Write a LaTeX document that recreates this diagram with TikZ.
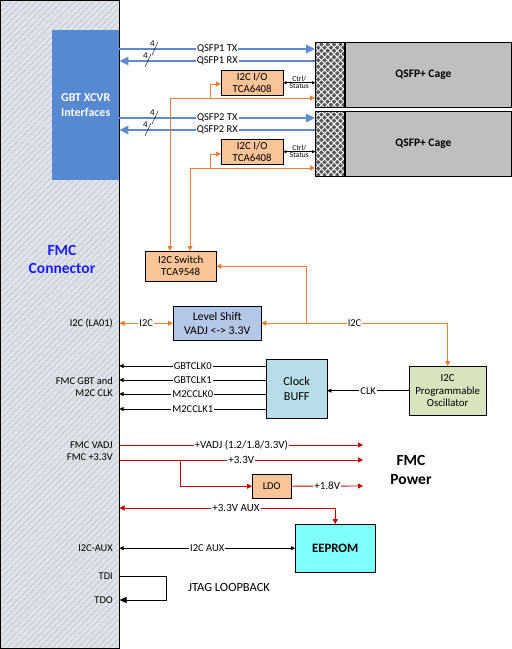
\documentclass[tikz,border=0pt]{standalone}
\usepackage{fontspec}
\setmainfont{Carlito}
\usetikzlibrary{arrows.meta,positioning,patterns.meta}
\definecolor{xcvr}{RGB}{86,137,210}
\definecolor{lane}{RGB}{92,138,204}
\definecolor{bus}{RGB}{237,125,49}
\definecolor{pwr}{RGB}{192,0,0}
\definecolor{peach}{RGB}{248,196,152}
\definecolor{shiftc}{RGB}{180,199,231}
\definecolor{buffc}{RGB}{183,222,232}
\definecolor{oscc}{RGB}{215,228,189}
\definecolor{eec}{RGB}{128,255,255}
\definecolor{fmcc}{RGB}{220,227,235}
\definecolor{fmcblue}{RGB}{30,30,250}
\begin{document}
\begin{tikzpicture}[x=1pt,y=-1pt,
  box/.style={draw, align=center, inner sep=2pt, anchor=north west,
              font=\fontsize{10.8}{12}\selectfont},
  lbl/.style={fill=white, text=black, inner sep=1pt, font=\fontsize{10.5}{11}\selectfont},
  side/.style={anchor=east, align=right, inner sep=1pt, font=\fontsize{10.4}{12}\selectfont},
  lanearr/.style={lane, line width=2.4pt, -{Triangle[length=9pt,width=8pt]}},
  busarr/.style={bus, line width=0.9pt, -{Triangle[length=5pt,width=5pt]}},
  pwrarr/.style={pwr, line width=0.9pt, -{Triangle[length=5pt,width=5pt]}},
  sigarr/.style={black, line width=0.7pt, -{Triangle[length=4pt,width=4pt]}}]
\useasboundingbox (0,0) rectangle (512,649);

% FMC connector and transceivers
\node[draw, line width=0.8pt, preaction={fill=fmcc}, pattern={Lines[angle=45,distance=4.5pt,line width=0.5pt]},
      pattern color=black!25, minimum width=119, minimum height=648, anchor=north west] (fmc) at (0,0) {};
\node[font=\fontsize{15.5}{18}\selectfont\bfseries, text=fmcblue, align=center] (fmcname) at (62,259) {FMC\\Connector};
\node[box, fill=xcvr, draw=none, text=white, font=\fontsize{12}{15}\selectfont\bfseries,
      minimum width=67, minimum height=150] (gbt) at (52,30) {GBT XCVR\\Interfaces};

% QSFP cages
\foreach \n/\y in {1/42,2/111} {
  \node[box, fill=black!25, minimum width=166, minimum height=65, line width=0.8pt,
        font=\fontsize{11.5}{13}\selectfont\bfseries] (cage\n) at (345,\y) {QSFP+ Cage\hspace*{10pt}};
  \node[draw, line width=0.8pt, preaction={fill=black!65}, pattern={Hatch[angle=45,distance=4.5pt,line width=0.9pt]},
        pattern color=white, minimum width=29, minimum height=65, anchor=north east] (plug\n) at (cage\n.north west) {};
}

% lanes
\foreach \n/\t/\r in {1/49/61,2/118/130} {
  \draw[lanearr] (gbt.east |- 0,\t) -- node[lbl]{QSFP\n\ TX} (plug\n.west |- 0,\t);
  \draw[lanearr] (plug\n.west |- 0,\r) -- node[lbl]{QSFP\n\ RX} (gbt.east |- 0,\r);
  \draw[thin] (152,\t+6) -- (158,\t-7) node[pos=0.85, left=-1pt, font=\fontsize{9}{9}\selectfont]{4};
  \draw[thin] (145,\r+6) -- (151,\r-7) node[pos=0.85, left=-1pt, font=\fontsize{9}{9}\selectfont]{4};
}

% I2C I/O expanders
\node[box, fill=peach, minimum width=62, minimum height=25] (io1) at (221,70) {I2C I/O\\TCA6408};
\node[box, fill=peach, minimum width=62, minimum height=25] (io2) at (221,139) {I2C I/O\\TCA6408};
\foreach \n in {1,2} {
  \draw[sigarr, line width=0.5pt, {Triangle[length=3pt,width=3pt]}-{Triangle[length=3pt,width=3pt]}]
    (io\n.east) -- (plug\n.west |- io\n.east)
    node[midway, above, inner sep=1pt, font=\fontsize{7.6}{8}\selectfont]{Ctrl/}
    node[midway, below, inner sep=1pt, font=\fontsize{7.6}{8}\selectfont]{Status};
}

% I2C switch and level shifter
\node[box, fill=peach, minimum width=71, minimum height=30] (sw) at (145,251) {I2C Switch\\TCA9548};
\node[box, fill=shiftc, minimum width=88, minimum height=34, font=\fontsize{11.8}{14}\selectfont] (ls) at (173,306) {Level Shift\\VADJ <-> 3.3V};
\node[box, fill=oscc, minimum width=77, minimum height=49, font=\fontsize{10.8}{12.5}\selectfont] (osc) at (409,366) {I2C\\Programmable\\Oscillator};
\node[box, fill=buffc, minimum width=61, minimum height=59, font=\fontsize{12.2}{15}\selectfont] (cb) at (266,359) {Clock\\BUFF};

\coordinate (j1) at (210,98);
\coordinate (j2) at (210,168);
\coordinate (j3) at (306,323);
\draw[busarr, {Triangle[length=5pt,width=5pt]}-{Triangle[length=5pt,width=5pt]}]
  (sw.north -| 170,0) -- (170,98) -- (plug1.west |- j1);
\draw[busarr] (j1) -- (j1 |- 0,84) -- (io1.west |- 0,84);
\draw[busarr, {Triangle[length=5pt,width=5pt]}-{Triangle[length=5pt,width=5pt]}]
  (sw.north -| 190,0) -- (190,168) -- (plug2.west |- j2);
\draw[busarr] (j2) -- (j2 |- 0,154) -- (io2.west |- 0,154);
\draw[busarr, {Triangle[length=5pt,width=5pt]}-{Triangle[length=5pt,width=5pt]}]
  (fmc.east |- ls.west) -- node[lbl]{I2C} (ls.west);
\draw[busarr, {Triangle[length=5pt,width=5pt]}-{Triangle[length=5pt,width=5pt]}]
  (ls.east) -- node[lbl]{I2C} (osc.north |- ls.east) -- (osc.north);
\draw[busarr] (j3) -- (j3 |- sw.east) -- (sw.east);
\node[side] (i2cla) at (114,323) {I2C (LA01)};

% clocks
\draw[sigarr] (osc.west) -- node[lbl]{CLK} (cb.east |- osc.west);
\foreach \y/\t in {366/GBTCLK0,380/GBTCLK1,394/M2CCLK0,409/M2CCLK1}
  \draw[sigarr] (cb.west |- 0,\y) -- node[lbl]{\t} (fmc.east |- 0,\y);
\node[side] (clklbl) at (114,387) {FMC GBT and\\M2C CLK};

% power
\node[side] (vadjlbl) at (114,445) {FMC VADJ};
\node[side] (p33lbl) at (114,457) {FMC +3.3V};
\node[box, fill=peach, minimum width=39, minimum height=24, font=\fontsize{10.5}{11}\selectfont] (ldo) at (252,474) {LDO};
\node[box, fill=eec, minimum width=80, minimum height=48, font=\fontsize{12.8}{15}\selectfont\bfseries] (ee) at (295,524) {EEPROM};
\coordinate (vadj) at (363,445);
\coordinate (p33) at (363,460);
\coordinate (p18) at (363,486);
\coordinate (j4) at (180,460);
\draw[pwrarr] (fmc.east |- vadj) -- node[lbl, font=\fontsize{11}{12}\selectfont]{+VADJ (1.2/1.8/3.3V)} (vadj);
\draw[pwrarr] (fmc.east |- p33) -- node[lbl, font=\fontsize{11}{12}\selectfont]{+3.3V} (p33);
\draw[pwrarr] (j4) -- (j4 |- ldo.west) -- (ldo.west);
\draw[pwrarr] (ldo.east) -- node[lbl, font=\fontsize{11}{12}\selectfont]{+1.8V} (p18);
\draw[pwrarr, {Triangle[length=5pt,width=5pt]}-{Triangle[length=5pt,width=5pt]}]
  (fmc.east |- 0,508) -- node[lbl, pos=0.54, font=\fontsize{11}{12}\selectfont]{+3.3V AUX} (ee.north |- 0,508) -- (ee.north);
\node[font=\fontsize{15.5}{19}\selectfont\bfseries, align=center] (pwrlbl) at (411,470) {FMC\\Power};

% I2C aux and JTAG
\draw[sigarr, {Triangle[length=4pt,width=4pt]}-{Triangle[length=4pt,width=4pt]}]
  (fmc.east |- ee.west) -- node[lbl]{I2C AUX} (ee.west);
\node[side] (auxlbl) at (114,548) {I2C-AUX};
\node[side] (tdi) at (114,576) {TDI};
\node[side] (tdo) at (114,600) {TDO};
\draw[black, line width=0.8pt, -{Triangle[length=7pt,width=6pt]}]
  (fmc.east |- tdi) -- (166,576) -- (166,600) -- (fmc.east |- tdo);
\node[font=\fontsize{12.5}{14}\selectfont] (jtag) at (229,587) {JTAG LOOPBACK};
\end{tikzpicture}
\end{document}
